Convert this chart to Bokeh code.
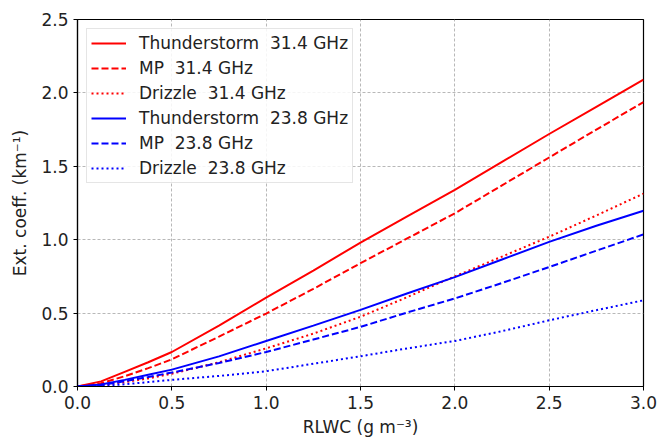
from bokeh.plotting import figure
from bokeh.models import Range1d, FixedTicker, PrintfTickFormatter, Legend, LegendItem
from bokeh.embed import file_html
from bokeh.resources import INLINE

# ---- data ----
rlwc = [0, 0.125, 0.25, 0.375, 0.5, 0.75, 1.0, 1.25, 1.5, 1.75, 2.0, 2.25, 2.5, 2.75, 3.0]
thunder_314 = [0, 0.035, 0.10, 0.165, 0.235, 0.415, 0.605, 0.79, 0.98, 1.16, 1.34, 1.53, 1.72, 1.905, 2.09]
mp_314 = [0, 0.022, 0.07, 0.125, 0.185, 0.34, 0.497, 0.665, 0.84, 1.01, 1.18, 1.37, 1.56, 1.75, 1.937]
drizzle_314 = [0, 0.008, 0.03, 0.055, 0.087, 0.165, 0.26, 0.36, 0.475, 0.61, 0.75, 0.885, 1.02, 1.165, 1.314]
thunder_238 = [0, 0.013, 0.045, 0.08, 0.115, 0.205, 0.31, 0.415, 0.522, 0.635, 0.745, 0.865, 0.985, 1.095, 1.197]
mp_238 = [0, 0.01, 0.036, 0.065, 0.095, 0.16, 0.235, 0.32, 0.406, 0.505, 0.60, 0.705, 0.814, 0.925, 1.036]
drizzle_238 = [0, 0.004, 0.015, 0.03, 0.045, 0.072, 0.104, 0.155, 0.206, 0.26, 0.31, 0.377, 0.451, 0.52, 0.587]

x_ticks = [0.0, 0.5, 1.0, 1.5, 2.0, 2.5, 3.0]
y_ticks = [0.0, 0.5, 1.0, 1.5, 2.0, 2.5]

GAP = "\u00a0 "
series = [
    ("Thunderstorm" + GAP + "31.4 GHz", thunder_314, "#ff0000", "solid"),
    ("MP" + GAP + "31.4 GHz", mp_314, "#ff0000", "7 3"),
    ("Drizzle" + GAP + "31.4 GHz", drizzle_314, "#ff0000", "2 3"),
    ("Thunderstorm" + GAP + "23.8 GHz", thunder_238, "#0000ff", "solid"),
    ("MP" + GAP + "23.8 GHz", mp_238, "#0000ff", "7 3"),
    ("Drizzle" + GAP + "23.8 GHz", drizzle_238, "#0000ff", "2 3"),
]

FONT = "DejaVu Sans"
FS = "17px"

p = figure(width=659, height=439, output_backend="svg", toolbar_location=None,
           x_range=Range1d(0, 3), y_range=Range1d(0, 2.5),
           min_border_left=77, min_border_right=16, min_border_top=19, min_border_bottom=53)

p.outline_line_color = "black"
p.outline_line_width = 1.2
p.background_fill_color = "white"
p.border_fill_color = "white"

for ax, ticks in ((p.xaxis[0], x_ticks), (p.yaxis[0], y_ticks)):
    ax.ticker = FixedTicker(ticks=ticks)
    ax.formatter = PrintfTickFormatter(format="%.1f")
    ax.minor_tick_line_color = None
    ax.major_tick_out = 4
    ax.major_tick_in = 0
    ax.axis_line_color = "black"
    ax.axis_line_width = 1.2
    ax.major_tick_line_color = "black"
    ax.major_label_text_font = FONT
    ax.major_label_text_font_size = FS
    ax.major_label_text_color = "#222222"
    ax.axis_label_text_font = FONT
    ax.axis_label_text_font_size = FS
    ax.axis_label_text_font_style = "normal"
    ax.axis_label_text_color = "#222222"

p.xaxis[0].axis_label = "RLWC (g m\u207b\u00b3)"
p.yaxis[0].axis_label = "Ext. coeff. (km\u207b\u00b9)"
p.xaxis[0].major_label_standoff = 5
p.yaxis[0].major_label_standoff = 5
p.xaxis[0].axis_label_standoff = 5
p.yaxis[0].axis_label_standoff = 8

p.xgrid[0].ticker = FixedTicker(ticks=x_ticks)
p.ygrid[0].ticker = FixedTicker(ticks=y_ticks)
for g in (p.xgrid[0], p.ygrid[0]):
    g.grid_line_color = "#b0b0b0"
    g.grid_line_dash = "3 2"
    g.grid_line_width = 0.9

items = []
for label, ys, color, dash in series:
    r = p.line(rlwc, ys, line_color=color, line_width=2, line_dash=dash)
    items.append(LegendItem(label=label, renderers=[r]))

legend = Legend(items=items, location="top_left", margin=9, padding=4, spacing=5,
                glyph_width=35, glyph_height=20, label_height=20, label_standoff=13,
                label_text_font=FONT, label_text_font_size=FS, label_text_color="#222222",
                border_line_color="#cccccc", border_line_width=1,
                background_fill_color="white", background_fill_alpha=0.85)
p.add_layout(legend)

open("out.html", "w").write(file_html(p, INLINE))
